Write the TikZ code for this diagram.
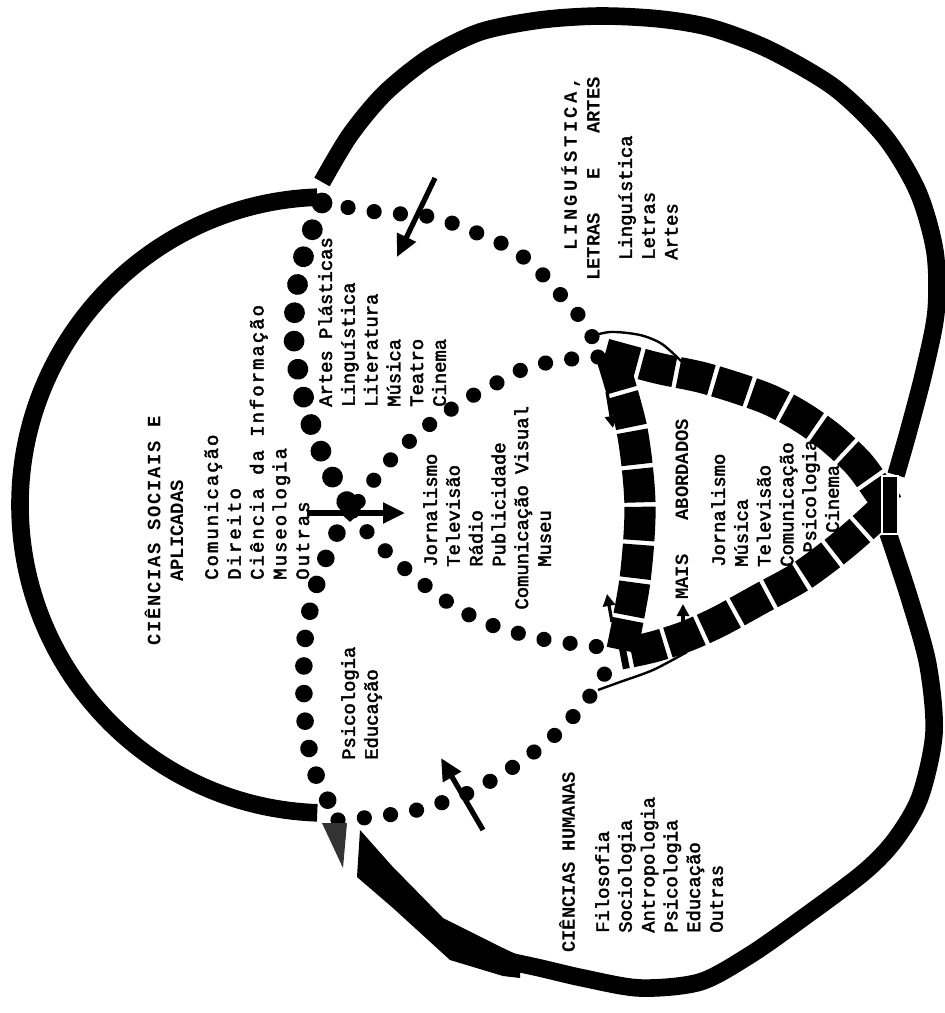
\documentclass[tikz,border=0pt]{standalone}
\usepackage{fontspec}
\setmonofont{Liberation Mono}
\usetikzlibrary{arrows.meta,shapes.geometric}
\newcommand{\lstfont}{\fontsize{13.4}{16.2}\selectfont\ttfamily\addfontfeature{FakeBold=2.5}}
\newcommand{\ttlfont}{\fontsize{13.4}{16.2}\selectfont\ttfamily\bfseries}

\begin{document}
\begin{tikzpicture}[x=0.25mm,y=-0.25mm,
  ring/.style={line width=4.4mm},
  beads/.style={line width=3.8mm,line cap=round,dash pattern=on 0.01pt off 6.6mm},
  medbeads/.style={beads,line width=4.4mm,dash pattern=on 0.01pt off 6.9mm},
  bigbeads/.style={beads,line width=5.2mm,dash pattern=on 0.01pt off 7.1mm},
  bricks/.style={line width=7.8mm,dash pattern=on 8.4mm off 1.1mm},
  thin/.style={line width=0.6mm},
  arr/.style={line width=1.3mm,-{Triangle[length=5.5mm,width=5mm]}},
  smallarr/.style={line width=0.8mm,-{Triangle[length=3mm,width=3mm]}},
  lst/.style={rotate=90,inner sep=0pt,anchor=north west,align=left,font=\lstfont},
  ttl/.style={rotate=90,inner sep=0pt,font=\ttlfont}]
  \useasboundingbox (0,0) rectangle (945,1013);
  \fill[white] (0,0) rectangle (945,1013);

  % texts
  \node[ttl,align=center] (socT) at (164,531)
    {{\addfontfeature{LetterSpace=9}CIÊNCIAS SOCIAIS E}\\APLICADAS};
  \node[lst,font=\lstfont\addfontfeature{LetterSpace=11}] (socL) at (204,580)
    {Comunicação\\Direito\\Ciência da Informação\\Museologia\\Outras};
  \node[lst] (arteL) at (318,407)
    {Artes Plásticas\\Linguística\\Literatura\\Música\\Teatro\\Cinema};
  \node[lst] (midL) at (423,567)
    {Jornalismo\\Televisão\\Rádio\\Publicidade\\\hspace*{-10.7mm}Comunicação Visual\\Museu};
  \node[lst] (psiL) at (341,760) {Psicologia\\Educação};
  \node[ttl,anchor=north east,align=right] (linT) at (561,77)
    {{\addfontfeature{LetterSpace=18}LINGUÍSTICA,}\\LETRAS~~~E~~~ARTES};
  \node[lst] (linL) at (618,260) {Linguística\\Letras\\Artes};
  \node[ttl,anchor=west] (humT) at (567,953) {CIÊNCIAS HUMANAS};
  \node[lst] (humL) at (595,933)
    {Filosofia\\Sociologia\\Antropologia\\Psicologia\\Educação\\Outras};
  \node[ttl,anchor=west] (maisT) at (682,600) {MAIS~~~ABORDADOS};
  \node[lst] (maisL) at (711,567)
    {Jornalismo\\Música\\Televisão\\Comunicação\\\hspace*{3.5mm}Psicologia\\\hspace*{8.5mm}Cinema};

  % dotted arcs
  \draw[bigbeads] plot[smooth] coordinates {(322,203) (300,270) (294,340) (308,415) (330,472) (352,510)};
  \draw[beads] plot[smooth] coordinates {(352,510) (368,533) (395,560) (427,587) (460,610) (497,627) (547,640) (593,646) (614,650)};
  \draw[beads] plot[smooth] coordinates {(598,357) (563,360) (526,368) (493,385) (462,402) (420,432) (385,466) (352,510)};
  \draw[medbeads] plot[smooth] coordinates {(352,510) (337,533) (318,580) (305,640) (305,720) (315,772) (338,820)};
  \draw[beads] plot[smooth] coordinates {(322,203) (377,212) (432,217) (477,233) (514,250) (543,275) (565,300) (584,322) (596,345)};
  \draw[beads] plot[smooth] coordinates {(338,820) (372,817) (417,810) (468,793) (513,767) (555,735) (587,700) (612,662)};

  % band of the common area
  \draw[bricks] plot[smooth] coordinates {(605,354) (657,368) (700,377) (737,388) (770,400) (800,416) (830,437) (858,463) (878,490) (888,505)};
  \draw[bricks] plot[smooth] coordinates {(888,505) (857,533) (833,553) (800,577) (760,599) (720,621) (687,636) (653,647) (620,654)};
  \draw[bricks] plot[smooth] coordinates {(612,358) (632,430) (640,505) (635,580) (622,650)};
  \draw[thin] plot[smooth] coordinates {(585,338) (610,332) (640,335) (662,344) (682,362)};
  \draw[thin] plot[smooth] coordinates {(598,690) (620,682) (653,670) (687,652)};

  % outer rings
  \coordinate (socc) at (328,505);
  \draw[ring] (socc) ++(-92:308) arc[start angle=-92,end angle=-268,radius=308];
  \draw[ring] plot[smooth] coordinates {(322,182) (350,135) (385,93) (430,57) (480,32) (540,20) (600,16) (660,19) (712,28) (770,50) (835,88) (885,137) (918,192) (935,252) (936,312) (924,372) (908,433) (896,475)};
  \draw[ring] plot[smooth] coordinates {(888,533) (910,600) (928,665) (934,733) (920,797) (895,840) (863,873) (800,920) (750,955) (700,982) (640,988) (583,978) (540,968) (503,960)};
  \fill (520,956) -- (503,948) -- (443,918) -- (392,866) -- (360,830) -- (357,877)
    -- (393,908) -- (450,960) -- (503,976) -- (520,978) -- cycle;
  \fill[black!80] (322,823) -- (347,823) -- (343,868) -- cycle;
  \node[draw=white,fill=black,line width=0.6mm,minimum width=4mm,minimum height=14.5mm,inner sep=0pt] (tip) at (890,505) {};

  % arrows
  \coordinate (a1s) at (435,178); \coordinate (a1e) at (397,257);
  \coordinate (a2s) at (307,513); \coordinate (a2e) at (405,513);
  \coordinate (a3s) at (483,830); \coordinate (a3e) at (441,758);
  \draw[arr] (a1s) -- (a1e);
  \draw[arr] (a2s) -- (a2e);
  \draw[arr] (a3s) -- (a3e);
  \node[diamond,fill,minimum width=5mm,minimum height=4.5mm,inner sep=0pt] (xd) at (350,513) {};
  \coordinate (b1s) at (607,392); \coordinate (b1e) at (613,428);
  \coordinate (b2s) at (612,622); \coordinate (b2e) at (607,594);
  \coordinate (b3s) at (683,630); \coordinate (b3e) at (683,604);
  \draw[smallarr] (b1s) -- (b1e);
  \draw[smallarr] (b2s) -- (b2e);
  \draw[smallarr] (b3s) -- (b3e);
\end{tikzpicture}
\end{document}
